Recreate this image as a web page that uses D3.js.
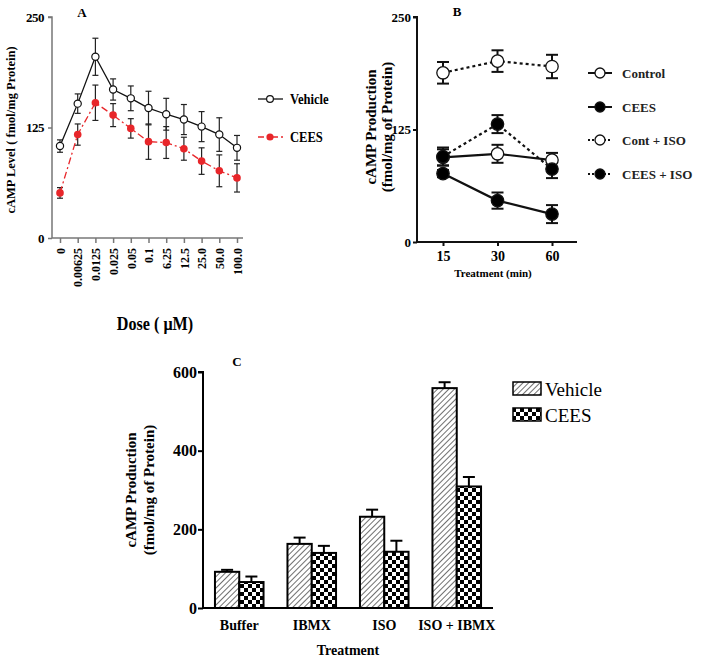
<!DOCTYPE html>
<html>
<head>
<meta charset="utf-8">
<script src="https://cdn.jsdelivr.net/npm/d3@7"></script>
<style>
  body { margin: 0; background: #fff; }
  svg text { font-family: "Liberation Serif", "Times New Roman", serif; }
</style>
</head>
<body>
<div id="content"></div>
<script>
// ---- panel A: dose response ----
var doses = ['0', '0.00625', '0.0125', '0.025', '0.05', '0.1', '6.25', '12.5', '25.0', '50.0', '100.0'];
var vehicleA = [104, 152, 205, 168, 158, 147, 140, 134, 126, 117, 102];
var vehicleAErr = [7, 11, 21, 12, 14, 19, 18, 17, 17, 19, 14];
var ceesA = [51, 117, 153, 139, 124, 109, 108, 101, 87, 76, 68];
var ceesAErr = [6, 12, 20, 13, 11, 20, 18, 13, 15, 18, 16];
var yTicksA = [0, 125, 250];

// ---- panel B: time course ----
var times = ['15', '30', '60'];
var seriesB = [
  { name: 'Control',    fill: '#fff', dash: null,  values: [94, 98, 91],   err: [9, 10, 8] },
  { name: 'CEES',       fill: '#000', dash: null,  values: [76, 46, 31],   err: [4, 9, 10] },
  { name: 'Cont + ISO', fill: '#fff', dash: '3,3', values: [188, 201, 195], err: [12, 12, 13] },
  { name: 'CEES + ISO', fill: '#000', dash: '3,3', values: [95, 131, 81],  err: [10, 10, 10] }
];
var yTicksB = [0, 125, 250];

// ---- panel C: treatments ----
var treatments = ['Buffer', 'IBMX', 'ISO', 'ISO + IBMX'];
var vehicleC = [92, 163, 232, 559];
var vehicleCErr = [5, 16, 18, 15];
var ceesC = [66, 140, 143, 309];
var ceesCErr = [14, 18, 28, 24];
var yTicksC = [0, 200, 400, 600];

var svg = d3.select('#content').append('svg')
  .attr('width', 701).attr('height', 663);

var defs = svg.append('defs');
var hatch = defs.append('pattern').attr('id', 'hatch')
  .attr('patternUnits', 'userSpaceOnUse').attr('width', 4).attr('height', 4)
  .attr('patternTransform', 'rotate(45)');
hatch.append('rect').attr('width', 4).attr('height', 4).attr('fill', '#fff');
hatch.append('line').attr('x1', 0).attr('y1', 0).attr('x2', 0).attr('y2', 4)
  .attr('stroke', '#222').attr('stroke-width', 1.3);
var check = defs.append('pattern').attr('id', 'check')
  .attr('patternUnits', 'userSpaceOnUse').attr('width', 8).attr('height', 8);
check.append('rect').attr('width', 8).attr('height', 8).attr('fill', '#fff');
check.append('rect').attr('width', 4).attr('height', 4).attr('fill', '#000');
check.append('rect').attr('x', 4).attr('y', 4).attr('width', 4).attr('height', 4).attr('fill', '#000');

function errBars(g, xs, ys, vals, errs, cap, color, width, onlyUp) {
  vals.forEach(function(v, i) {
    var x = xs(i), hi = ys(v + errs[i]), lo = onlyUp ? ys(v) : ys(v - errs[i]);
    g.append('line').attr('x1', x).attr('x2', x).attr('y1', hi).attr('y2', lo)
      .attr('stroke', color).attr('stroke-width', width);
    g.append('line').attr('x1', x - cap).attr('x2', x + cap).attr('y1', hi).attr('y2', hi)
      .attr('stroke', color).attr('stroke-width', width);
    if (!onlyUp) {
      g.append('line').attr('x1', x - cap).attr('x2', x + cap).attr('y1', lo).attr('y2', lo)
        .attr('stroke', color).attr('stroke-width', width);
    }
  });
}

// ================= A =================
var xA = d3.scalePoint().domain(doses).range([60, 237]);
var yA = d3.scaleLinear().domain([0, 250]).range([238, 17]);
var gA = svg.append('g');

gA.append('g').attr('transform', 'translate(52,0)')
  .call(d3.axisLeft(yA).tickValues(yTicksA).tickSize(4).tickFormat(d3.format('d')))
  .call(function(g) {
    g.select('.domain').attr('d', 'M-4,' + yA(250) + 'H0V' + yA(0));
    g.selectAll('path, line').attr('stroke', '#777').attr('stroke-width', 1.5);
    g.selectAll('text').attr('font-size', 13).attr('font-weight', 'bold').attr('x', -8)
      .attr('letter-spacing', -0.5);
  });
gA.append('g').attr('transform', 'translate(0,238)')
  .call(d3.axisBottom(xA).tickSize(5).tickSizeOuter(0))
  .call(function(g) {
    g.select('.domain').attr('d', 'M52,0H243');
    g.selectAll('path, line').attr('stroke', '#777').attr('stroke-width', 1.5);
    g.selectAll('text').attr('font-size', 12).attr('font-weight', 'bold')
      .attr('transform', 'rotate(-90)').attr('text-anchor', 'end')
      .attr('x', -10).attr('y', 0).attr('dy', '0.35em');
  });

var lineA = d3.line().x(function(d, i) { return xA(doses[i]); }).y(function(d) { return yA(d); });
errBars(gA, function(i) { return xA(doses[i]); }, yA, vehicleA, vehicleAErr, 3, '#222', 1.2, false);
errBars(gA, function(i) { return xA(doses[i]); }, yA, ceesA, ceesAErr, 3, '#222', 1.2, false);
gA.append('path').datum(ceesA).attr('d', lineA).attr('fill', 'none')
  .attr('stroke', '#e8262a').attr('stroke-width', 1.3).attr('stroke-dasharray', '7,3,2,3');
gA.append('path').datum(vehicleA).attr('d', lineA).attr('fill', 'none')
  .attr('stroke', '#111').attr('stroke-width', 1.3);
gA.selectAll('.cA').data(ceesA).enter().append('circle')
  .attr('cx', function(d, i) { return xA(doses[i]); }).attr('cy', yA).attr('r', 3.8)
  .attr('fill', '#e8262a');
gA.selectAll('.vA').data(vehicleA).enter().append('circle')
  .attr('cx', function(d, i) { return xA(doses[i]); }).attr('cy', yA).attr('r', 3.6)
  .attr('fill', '#fff').attr('stroke', '#111').attr('stroke-width', 1.2);

gA.append('text').attr('x', 82).attr('y', 17).attr('text-anchor', 'middle')
  .attr('font-size', 13).attr('font-weight', 'bold').text('A');
gA.append('text').attr('transform', 'translate(15,130) rotate(-90)').attr('text-anchor', 'middle')
  .attr('font-size', 12.5).attr('font-weight', 'bold').text('cAMP Level ( fmol/mg Protein)');
gA.append('text').attr('x', 155).attr('y', 330).attr('text-anchor', 'middle')
  .attr('font-size', 19).attr('font-weight', 'bold').attr('transform', 'translate(155,330) scale(0.85,1) translate(-155,-330)')
  .text('Dose ( \u03bcM)');

// legend A
var legA = [{ name: 'Vehicle', y: 99 }, { name: 'CEES', y: 137 }];
legA.forEach(function(d, i) {
  var g = gA.append('g');
  if (i === 0) {
    g.append('line').attr('x1', 258).attr('x2', 283).attr('y1', d.y).attr('y2', d.y)
      .attr('stroke', '#111').attr('stroke-width', 1.3);
    g.append('circle').attr('cx', 270).attr('cy', d.y).attr('r', 3.4)
      .attr('fill', '#fff').attr('stroke', '#111').attr('stroke-width', 1.2);
  } else {
    g.append('line').attr('x1', 258).attr('x2', 283).attr('y1', d.y).attr('y2', d.y)
      .attr('stroke', '#e8262a').attr('stroke-width', 1.3).attr('stroke-dasharray', '6,3,2,3');
    g.append('circle').attr('cx', 270).attr('cy', d.y).attr('r', 3.6).attr('fill', '#e8262a');
  }
  g.append('text').attr('x', 290).attr('y', d.y).attr('dy', '0.35em')
    .attr('font-size', 14).attr('font-weight', 'bold')
    .attr('transform', 'translate(290,0) scale(0.9,1) translate(-290,0)').text(d.name);
});

// ================= B =================
var xB = d3.scalePoint().domain(times).range([443, 552]);
var yB = d3.scaleLinear().domain([0, 250]).range([242, 17]);
var gB = svg.append('g');

gB.append('g').attr('transform', 'translate(417,0)')
  .call(d3.axisLeft(yB).tickValues(yTicksB).tickSize(4).tickFormat(d3.format('d')))
  .call(function(g) {
    g.select('.domain').attr('d', 'M-4,' + yB(250) + 'H0V' + yB(0));
    g.selectAll('path, line').attr('stroke', '#111').attr('stroke-width', 2);
    g.selectAll('text').attr('font-size', 13).attr('font-weight', 'bold').attr('x', -6);
  });
gB.append('g').attr('transform', 'translate(0,242)')
  .call(d3.axisBottom(xB).tickSize(4).tickSizeOuter(0))
  .call(function(g) {
    g.select('.domain').attr('d', 'M417,0H577');
    g.selectAll('path, line').attr('stroke', '#111').attr('stroke-width', 2);
    g.selectAll('text').attr('font-size', 14).attr('font-weight', 'bold').attr('y', 9);
  });

var lineB = d3.line().x(function(d, i) { return xB(times[i]); }).y(function(d) { return yB(d); });
seriesB.forEach(function(s) {
  gB.append('path').datum(s.values).attr('d', lineB).attr('fill', 'none')
    .attr('stroke', '#111').attr('stroke-width', 2.2)
    .attr('stroke-dasharray', s.dash);
});
seriesB.forEach(function(s) {
  errBars(gB, function(i) { return xB(times[i]); }, yB, s.values, s.err, 6, '#111', 2, false);
});
[2, 0, 3, 1].forEach(function(k) {
  var s = seriesB[k];
  gB.selectAll(null).data(s.values).enter().append('circle')
    .attr('cx', function(d, i) { return xB(times[i]); }).attr('cy', yB).attr('r', 6.2)
    .attr('fill', s.fill).attr('stroke', '#111').attr('stroke-width', 1.3);
});

gB.append('text').attr('x', 457).attr('y', 16).attr('text-anchor', 'middle')
  .attr('font-size', 13).attr('font-weight', 'bold').text('B');
gB.append('text').attr('transform', 'translate(376,127) rotate(-90)').attr('text-anchor', 'middle')
  .attr('font-size', 15).attr('font-weight', 'bold').text('cAMP Production');
gB.append('text').attr('transform', 'translate(392,127) rotate(-90)').attr('text-anchor', 'middle')
  .attr('font-size', 15).attr('font-weight', 'bold').text('(fmol/mg of Protein)');
gB.append('text').attr('x', 493).attr('y', 277).attr('text-anchor', 'middle')
  .attr('font-size', 11).attr('font-weight', 'bold').text('Treatment (min)');

var legYB = [73, 107, 140, 174];
seriesB.forEach(function(s, i) {
  var y = legYB[i];
  gB.append('line').attr('x1', 588).attr('x2', 612).attr('y1', y).attr('y2', y)
    .attr('stroke', '#111').attr('stroke-width', 2).attr('stroke-dasharray', s.dash ? '2,2' : null);
  gB.append('circle').attr('cx', 600).attr('cy', y).attr('r', 5)
    .attr('fill', s.fill).attr('stroke', '#111').attr('stroke-width', 1.3);
  gB.append('text').attr('x', 622).attr('y', y).attr('dy', '0.35em')
    .attr('font-size', 13).attr('font-weight', 'bold').attr('fill', '#222').text(s.name);
});

// ================= C =================
var xC = d3.scaleBand().domain(treatments).range([203, 493]).paddingInner(0.33).paddingOuter(0.165);
var yC = d3.scaleLinear().domain([0, 600]).range([608, 372]);
var gC = svg.append('g');
var bw = xC.bandwidth() / 2;

function barsC(vals, errs, off, fill) {
  vals.forEach(function(v, i) {
    var x0 = xC(treatments[i]) + off;
    gC.append('rect').attr('x', x0).attr('y', yC(v)).attr('width', bw).attr('height', yC(0) - yC(v))
      .attr('fill', fill).attr('stroke', '#000').attr('stroke-width', 2);
  });
  errBars(gC, function(i) { return xC(treatments[i]) + off + bw / 2; }, yC, vals, errs, 6, '#000', 2, true);
}
barsC(vehicleC, vehicleCErr, 0, 'url(#hatch)');
barsC(ceesC, ceesCErr, bw, 'url(#check)');

gC.append('g').attr('transform', 'translate(203,0)')
  .call(d3.axisLeft(yC).tickValues(yTicksC).tickSize(5).tickFormat(d3.format('d')))
  .call(function(g) {
    g.select('.domain').attr('d', 'M-5,' + yC(600) + 'H0V' + yC(0));
    g.selectAll('path, line').attr('stroke', '#000').attr('stroke-width', 2);
    g.selectAll('text').attr('font-size', 16).attr('font-weight', 'bold').attr('x', -6);
  });
gC.append('g').attr('transform', 'translate(0,608)')
  .call(d3.axisBottom(xC).tickSize(0).tickSizeOuter(0))
  .call(function(g) {
    g.select('.domain').attr('d', 'M203,0H493');
    g.selectAll('path').attr('stroke', '#000').attr('stroke-width', 2);
    g.selectAll('text').attr('font-size', 14).attr('font-weight', 'bold').attr('y', 12);
  });

gC.append('text').attr('x', 237).attr('y', 366).attr('text-anchor', 'middle')
  .attr('font-size', 13).attr('font-weight', 'bold').text('C');
gC.append('text').attr('transform', 'translate(136,490) rotate(-90)').attr('text-anchor', 'middle')
  .attr('font-size', 15).attr('font-weight', 'bold').text('cAMP Production');
gC.append('text').attr('transform', 'translate(154,490) rotate(-90)').attr('text-anchor', 'middle')
  .attr('font-size', 15).attr('font-weight', 'bold').text('(fmol/mg of Protein)');
gC.append('text').attr('x', 348).attr('y', 655).attr('text-anchor', 'middle')
  .attr('font-size', 14).attr('font-weight', 'bold').text('Treatment');

var legC = [{ name: 'Vehicle', fill: 'url(#hatch)', y: 382 }, { name: 'CEES', fill: 'url(#check)', y: 408 }];
legC.forEach(function(d) {
  gC.append('rect').attr('x', 513).attr('y', d.y).attr('width', 28).attr('height', 13)
    .attr('fill', d.fill).attr('stroke', '#000').attr('stroke-width', 1.5);
  gC.append('text').attr('x', 545).attr('y', d.y + 7).attr('dy', '0.35em')
    .attr('font-size', 19).text(d.name);
});
</script>
</body>
</html>
